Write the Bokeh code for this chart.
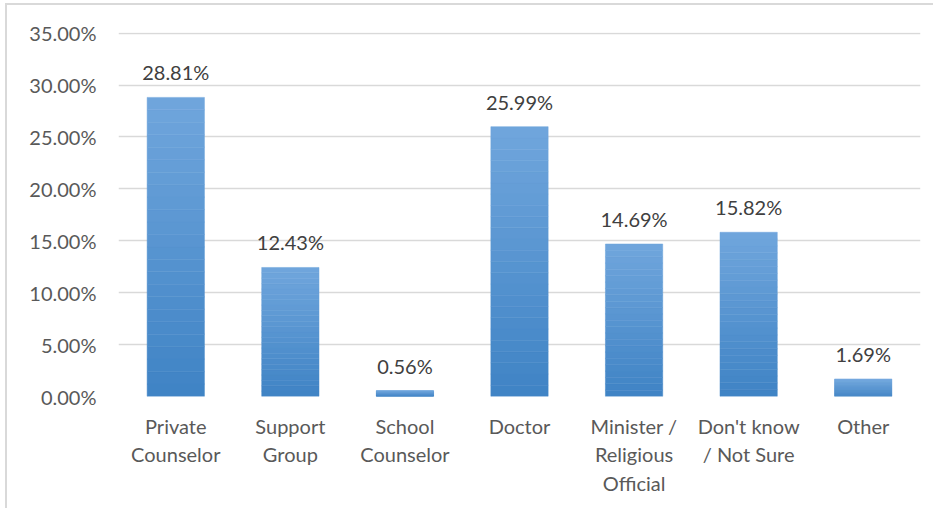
from bokeh.plotting import figure
from bokeh.models import ColumnDataSource, LabelSet, FixedTicker, NumeralTickFormatter, Range1d
from bokeh.core.properties import value
from bokeh.embed import file_html
from bokeh.resources import INLINE

categories = ["Private\nCounselor", "Support\nGroup", "School\nCounselor", "Doctor",
              "Minister /\nReligious\nOfficial", "Don't know\n/ Not Sure", "Other"]
values = [0.2881, 0.1243, 0.0056, 0.2599, 0.1469, 0.1582, 0.0169]
value_labels = ["28.81%", "12.43%", "0.56%", "25.99%", "14.69%", "15.82%", "1.69%"]
y_ticks = [0.0, 0.05, 0.10, 0.15, 0.20, 0.25, 0.30, 0.35]

FONT = "Lato"
FS = "20px"

p = figure(x_range=categories, y_range=Range1d(0, 0.3506), width=928, height=505,
           output_backend="svg", toolbar_location=None,
           min_border_left=111, min_border_right=15, min_border_top=27, min_border_bottom=114)
p.styles = {"border-top": "2px solid #d9d9d9", "border-left": "2px solid #d9d9d9",
            "margin-top": "3px", "margin-left": "5px"}

# gradient bars (bands from dark bottom to light top)
N = 24
dark = (0x3f, 0x83, 0xc5)
light = (0x70, 0xa6, 0xdc)
xs, tops, bottoms, colors = [], [], [], []
for c, v in zip(categories, values):
    for i in range(N):
        t = (i + 0.5) / N
        rgb = tuple(int(round(d + (l - d) * t)) for d, l in zip(dark, light))
        xs.append(c)
        bottoms.append(v * i / N)
        tops.append(v * (i + 1) / N)
        colors.append("#%02x%02x%02x" % rgb)

band_src = ColumnDataSource(dict(x=xs, top=tops, bottom=bottoms, color=colors))
p.vbar(x="x", top="top", bottom="bottom", width=0.5, source=band_src,
       fill_color="color", line_color="color", line_width=0.5)

src = ColumnDataSource(dict(x=categories, y=values, label=value_labels))
labels = LabelSet(x="x", y="y", text="label", source=src, y_offset=13,
                  text_align="center", text_baseline="bottom",
                  text_font=value(FONT), text_font_size=FS, text_color="#404040")
p.add_layout(labels)

p.outline_line_color = None
p.xgrid.grid_line_color = None
p.ygrid.grid_line_color = "#d9d9d9"
p.ygrid.grid_line_width = 1.5

p.yaxis.ticker = FixedTicker(ticks=y_ticks)
p.yaxis.formatter = NumeralTickFormatter(format="0.00%")
for ax in (p.xaxis[0], p.yaxis[0]):
    ax.axis_line_color = None
    ax.major_tick_line_color = None
    ax.minor_tick_line_color = None
    ax.major_label_text_font = FONT
    ax.major_label_text_font_size = FS
    ax.major_label_text_color = "#595959"
p.yaxis.major_label_standoff = 16
p.xaxis.major_label_standoff = 11
p.xaxis.major_label_text_line_height = 1.2

open("out.html", "w").write(file_html(p, INLINE))
